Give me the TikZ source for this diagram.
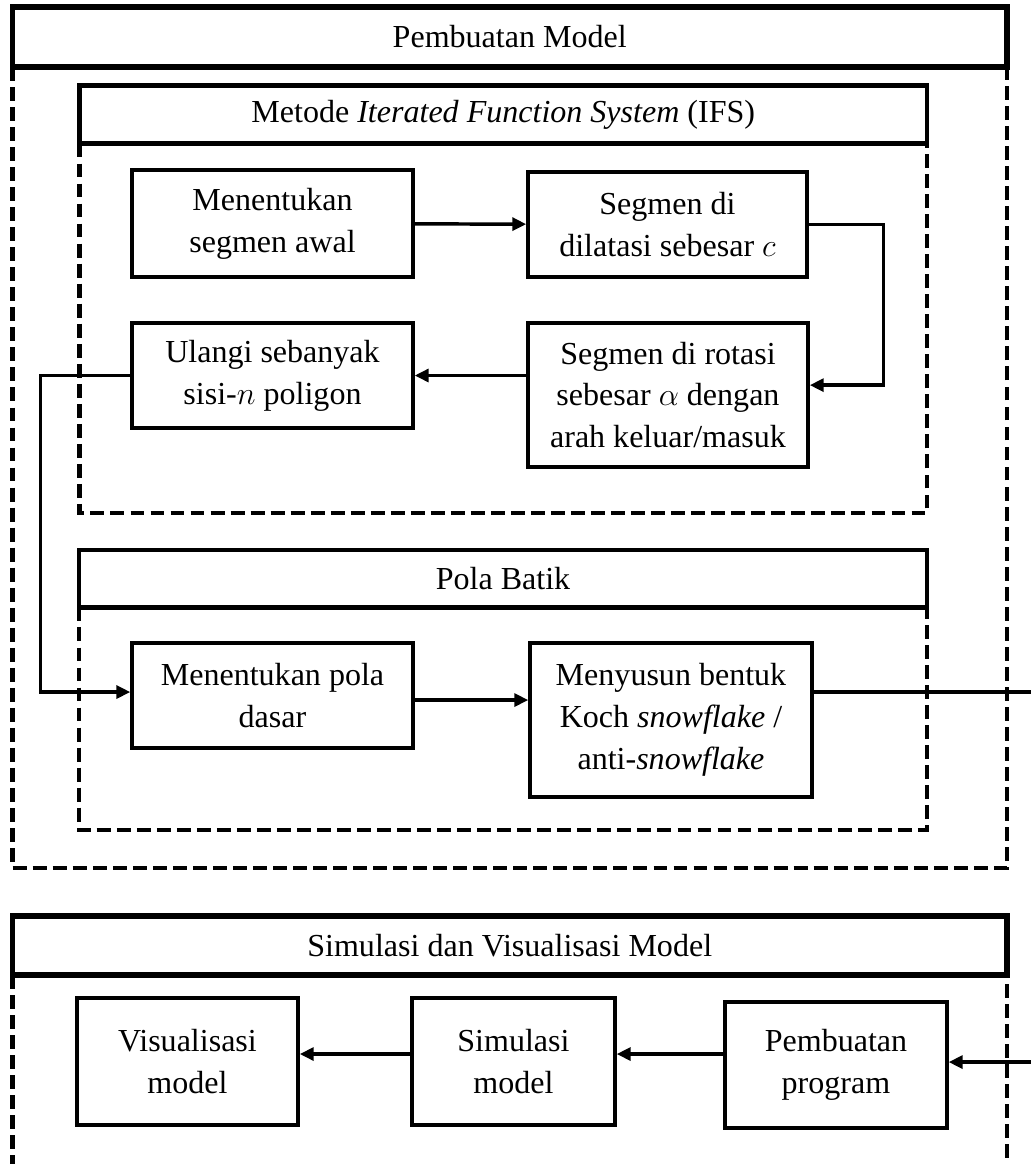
\documentclass[tikz,border=0pt]{standalone}
\usepackage{fontspec}
\setmainfont{Liberation Serif}
\usepackage{tikz}
\usetikzlibrary{arrows.meta}

\begin{document}
\begin{tikzpicture}[x=0.3745pt,y=-0.3745pt]
      \tikzset{every node/.style={font=\fontsize{12}{15.7}\selectfont},
        box/.style={draw,line width=1.3pt,fill=white,align=center,inner sep=0pt},
        headbox/.style={draw,line width=1.8pt,fill=white,inner sep=0pt,outer sep=0pt,minimum width=#1},
        dashbox/.style={line width=1.7pt,dash pattern=on 5.2pt off 2.3pt},
        arr/.style={line width=1.3pt,-{Triangle[length=5.2pt,width=4.8pt]}}}
      \useasboundingbox (0,0) rectangle (1031,1164);
      \node[headbox=372.4pt,minimum height=22.5pt,line width=2.1pt] (model) at (509.75,37) {Pembuatan Model};
      \draw[dashbox] (model.south west) rectangle (1007,868);
      \node[headbox=317.4pt,minimum height=21.7pt] (ifs) at (503.25,114.5) {Metode \textit{Iterated Function System} (IFS)};
      \draw[dashbox] (ifs.south west) rectangle (927,513);
      \node[headbox=317.6pt,minimum height=21.5pt] (batik) at (503,578.75) {Pola Batik};
      \draw[dashbox] (batik.south west) rectangle (927,830);
      \node[headbox=372.4pt,minimum height=22.1pt,line width=2.1pt] (simvis) at (509.75,945.5) {Simulasi dan Visualisasi Model};
      \draw[dashbox] (simvis.south west) rectangle (1007,1200);
      \node[box,minimum width=105.2pt,minimum height=40.1pt] (awal) at (272.5,223.5) {Menentukan\\segmen awal};
      \node[box,minimum width=104.5pt,minimum height=39.3pt] (dilatasi) at (667.5,224.5) {Segmen di\\dilatasi sebesar $c$};
      \node[box,minimum width=105.2pt,minimum height=39.3pt] (ulangi) at (272.5,375.5) {Ulangi sebanyak\\sisi-$n$ poligon};
      \node[box,minimum width=104.9pt,minimum height=53.9pt] (rotasi) at (668,395) {Segmen di rotasi\\sebesar $\alpha$ dengan\\arah keluar/masuk};
      \node[box,minimum width=105.2pt,minimum height=39.3pt] (dasar) at (272.5,695.5) {Menentukan pola\\dasar};
      \node[box,minimum width=105.6pt,minimum height=57.7pt] (susun) at (671,720) {Menyusun bentuk\\Koch \textit{snowflake} /\\anti-\textit{snowflake}};
      \node[box,minimum width=82.8pt,minimum height=47.6pt] (visual) at (187.5,1061.5) {Visualisasi\\model};
      \node[box,minimum width=76pt,minimum height=47.6pt] (simul) at (513.5,1061.5) {Simulasi\\model};
      \node[box,minimum width=83.1pt,minimum height=47.2pt] (program) at (836,1065) {Pembuatan\\program};
      \coordinate (keluar) at (1045,692);
      \draw[arr] (awal) -- (dilatasi);
      \draw[arr] (dilatasi.east) -- ++(75,0) |- ([yshift=3.7pt]rotasi.east);
      \draw[arr] (rotasi.west |- ulangi.east) -- (ulangi.east);
      \draw[arr] (ulangi.west) -- ++(-90,0) |- ([yshift=1.3pt]dasar.west);
      \draw[arr] ([yshift=-1.7pt]dasar.east) -- ([yshift=-1.7pt]dasar.east -| susun.west);
      \draw[arr] (susun.east |- keluar) -- (keluar) |- ([yshift=1.1pt]program.east);
      \draw[arr] ([yshift=2.8pt]simul.east -| program.west) -- ([yshift=2.8pt]simul.east);
      \draw[arr] ([yshift=2.8pt]simul.west) -- ([yshift=2.8pt]simul.west -| visual.east);
    \end{tikzpicture}
\end{document}
